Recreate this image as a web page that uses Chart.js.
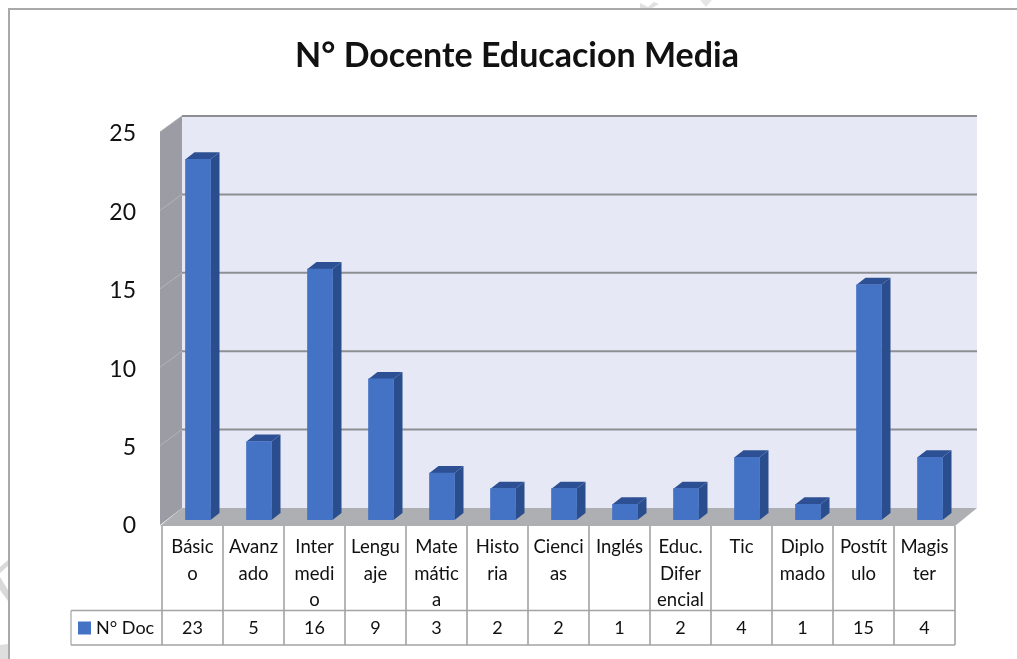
<!DOCTYPE html>
<html>
<head>
<meta charset="utf-8">
<script src="https://cdn.jsdelivr.net/npm/chart.js@4"></script>
<style>html,body{margin:0;padding:0;background:#fff;overflow:hidden}canvas{display:block}</style>
</head>
<body>
<canvas id="c" width="1017" height="659"></canvas>
<script>
const categories = [["Básic","o"],["Avanz","ado"],["Inter","medi","o"],["Lengu","aje"],["Mate","mátic","a"],["Histo","ria"],["Cienci","as"],["Inglés"],["Educ.","Difer","encial"],["Tic"],["Diplo","mado"],["Postít","ulo"],["Magis","ter"]];
const seriesName = "N° Doc";
const values = [23,5,16,9,3,2,2,1,2,4,1,15,4];
const chartTitle = "N° Docente Educacion Media";
const FONT = "Lato, Carlito, sans-serif";

const poly = (ctx, pts, fill) => {
  ctx.beginPath();
  pts.forEach((p,i)=> i?ctx.lineTo(p[0],p[1]):ctx.moveTo(p[0],p[1]));
  ctx.closePath(); ctx.fillStyle = fill; ctx.fill();
};
const line = (ctx,x1,y1,x2,y2,color,w) => {
  ctx.beginPath(); ctx.moveTo(x1,y1); ctx.lineTo(x2,y2);
  ctx.strokeStyle=color; ctx.lineWidth=w; ctx.stroke();
};

const scene3d = {
  id:'scene3d',
  beforeDraw(chart){
    const ctx = chart.ctx;
    ctx.save();
    poly(ctx,[[0,567],[8,560],[8,566],[0,573]],'#d9d9d9');
    poly(ctx,[[0,577],[8,590],[8,601],[0,590]],'#d9d9d9');
    poly(ctx,[[0,645],[8,644],[8,659],[0,659]],'#dedede');
    poly(ctx,[[640,3],[648,7],[654,2],[659,4],[652,8],[640,8]],'#e0e0e0');
    poly(ctx,[[700,0],[712,0],[706,7]],'#e6e6e6');
    line(ctx,9,659,9,9,'#a9a9a9',2);
    line(ctx,8,9,1017,9,'#a9a9a9',2);
    ctx.restore();
  },
  beforeDatasetsDraw(chart){
    const ctx = chart.ctx, y = chart.scales.y, a = chart.chartArea;
    const y0 = y.getPixelForValue(0), yT = y.getPixelForValue(y.max);
    const backL = a.left+14.5, backR = a.right+16.5, backDy = -12;
    ctx.save();
    poly(ctx,[[backL,yT+backDy],[backR,yT+backDy],[backR,y0+backDy],[backL,y0+backDy]],'#e6e9f5');
    const fL = a.left-7.5;
    poly(ctx,[[fL,yT+4],[backL,yT+backDy],[backL,y0+backDy],[fL,y0+5]],'#9b9ca4');
    poly(ctx,[[fL,y0+6],[backL,y0+backDy],[backR,y0+backDy],[a.right-5.5,y0+6]],'#aeafb3');
    y.ticks.forEach(t=>{
      const p = y.getPixelForValue(t.value);
      if(t.value>0){
        line(ctx,backL,p+backDy,backR,p+backDy,'#8d8f93',2);
        if(t.value<y.max) line(ctx,fL,p+4,backL,p+backDy,'#b4b5bb',1);
      }
    });
    line(ctx,fL,yT+4,backL,yT+backDy,'#a9aab0',1);
    const m = chart.getDatasetMeta(0), dx=9, dy=-7;
    m.data.forEach(b=>{
      const w=b.width/2, L=b.x-w, R=b.x+w, T=b.y, B=b.base;
      poly(ctx,[[R,T],[R+dx,T+dy],[R+dx,B+dy],[R,B]],'#2a4d8d');
      poly(ctx,[[L,T],[L+dx,T+dy],[R+dx,T+dy],[R,T]],'#2c5093');
    });
    ctx.restore();
  },
  afterDraw(chart){
    const ctx = chart.ctx, x = chart.scales.x;
    const n = categories.length, cw = x.width/n, shift = 5.5;
    const edge = i => x.left - shift + i*cw;
    const top=526, mid=610.5, bot=645, col='#a3a3a3';
    ctx.save();
    for(let i=0;i<=n;i++) line(ctx,edge(i),top,edge(i),bot,col,1.6);
    line(ctx,71,mid,edge(n),mid,col,1.6);
    line(ctx,71,bot,edge(n),bot,col,1.6);
    line(ctx,71,mid,71,bot,col,1.2);
    ctx.fillStyle = chart.data.datasets[0].backgroundColor;
    ctx.fillRect(78,621.5,13,13);
    ctx.fillStyle='#111';
    ctx.font = "18px "+FONT;
    ctx.textBaseline='middle';
    ctx.textAlign='left';
    ctx.fillText(seriesName,96,628);
    ctx.textAlign='center';
    values.forEach((v,i)=>ctx.fillText(String(v),edge(i)+cw/2,628.5));
    ctx.restore();
  }
};

new Chart(document.getElementById('c'),{
  type:'bar',
  data:{labels:categories,datasets:[{label:seriesName,data:values,backgroundColor:'#4472c4',barThickness:25,borderWidth:0}]},
  plugins:[scene3d],
  options:{
    responsive:false,
    animation:false,
    layout:{padding:{left:17,right:0,top:0,bottom:0}},
    plugins:{
      legend:{display:false},
      tooltip:{enabled:false},
      title:{display:true,text:chartTitle,color:'#111',font:{family:FONT,size:34,weight:'bold',lineHeight:1.2},padding:{top:36,bottom:51.2}}
    },
    scales:{
      x:{
        grid:{display:false},border:{display:false},
        afterFit:s=>{s.height=139;},
        ticks:{color:'#111',font:{family:FONT,size:18.5,lineHeight:'26.6px'},padding:6,labelOffset:-5.5,maxRotation:0,minRotation:0,autoSkip:false}
      },
      y:{
        min:0,max:25,
        grid:{display:false},border:{display:false},
        afterFit:s=>{s.width=150.5;},
        ticks:{stepSize:5,color:'#111',font:{family:FONT,size:23},padding:23.5,labelOffset:6}
      },
      y1:{
        position:'right',min:0,max:25,
        grid:{display:false},border:{display:false},
        afterFit:s=>{s.width=56.5;},
        ticks:{display:false}
      }
    }
  }
});
</script>
</body>
</html>
